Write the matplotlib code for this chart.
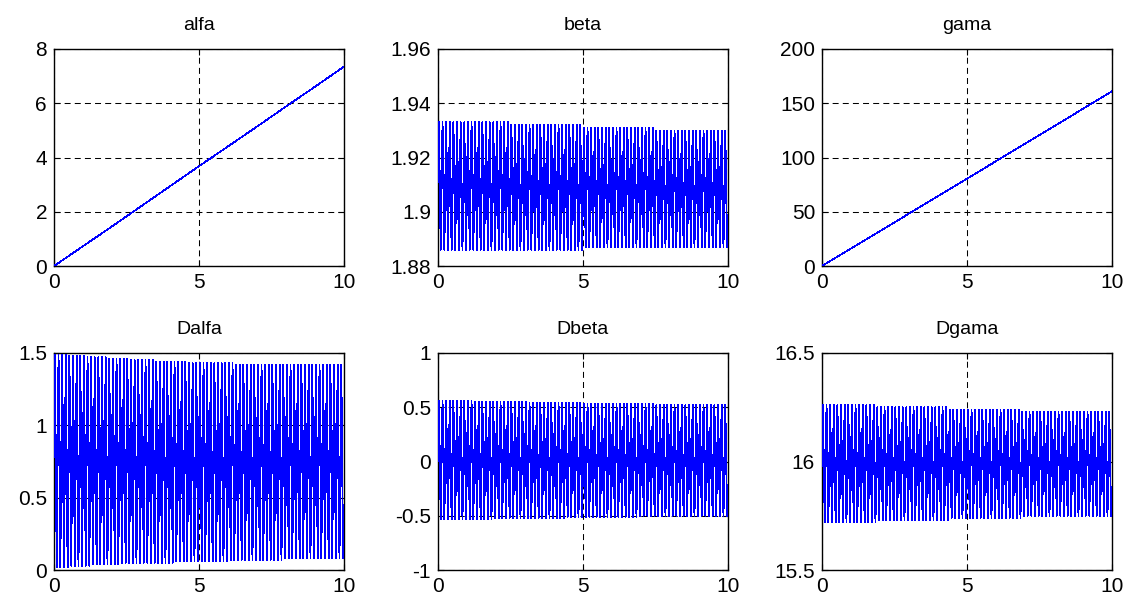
import numpy as np
import matplotlib
matplotlib.use("Agg")
import matplotlib.pyplot as plt
from matplotlib.ticker import FixedLocator, FuncFormatter

plt.rcParams['font.family'] = ['Liberation Sans', 'DejaVu Sans']
plt.rcParams['axes.unicode_minus'] = False
plt.rcParams['lines.scale_dashes'] = False
plt.rcParams['path.simplify'] = False

# ---------------- data ----------------
titles = ["alfa", "beta", "gama", "Dalfa", "Dbeta", "Dgama"]

t_line = [0, 1, 2, 3, 4, 5, 6, 7, 8, 9, 10]
alfa = [0.0, 0.73, 1.46, 2.2, 2.94, 3.68, 4.41, 5.14, 5.88, 6.61, 7.35]
gama = [0.0, 16.1, 32.2, 48.3, 64.4, 80.5, 96.6, 112.7, 128.8, 144.9, 161.0]

# oscillating signals: start value, then the value of every crest and trough (80 cycles)
dalfa_start = 0.78
dalfa_peaks = [
    1.49, 1.49, 1.49, 1.49, 1.48, 1.48, 1.48, 1.48, 1.48, 1.47,
    1.47, 1.47, 1.47, 1.47, 1.47, 1.46, 1.46, 1.46, 1.46, 1.46,
    1.46, 1.45, 1.45, 1.45, 1.45, 1.45, 1.45, 1.45, 1.44, 1.44,
    1.44, 1.44, 1.44, 1.44, 1.44, 1.44, 1.44, 1.43, 1.43, 1.43,
    1.43, 1.43, 1.43, 1.43, 1.43, 1.43, 1.43, 1.43, 1.43, 1.43,
    1.42, 1.42, 1.42, 1.42, 1.42, 1.42, 1.42, 1.42, 1.42, 1.42,
    1.42, 1.42, 1.42, 1.42, 1.42, 1.42, 1.42, 1.42, 1.42, 1.42,
    1.42, 1.42, 1.42, 1.42, 1.42, 1.42, 1.42, 1.42, 1.42, 1.42,
]
dalfa_troughs = [
    0.02, 0.02, 0.02, 0.02, 0.03, 0.03, 0.03, 0.03, 0.03, 0.03,
    0.04, 0.04, 0.04, 0.04, 0.04, 0.04, 0.04, 0.04, 0.05, 0.05,
    0.05, 0.05, 0.05, 0.05, 0.05, 0.05, 0.05, 0.05, 0.05, 0.05,
    0.05, 0.05, 0.05, 0.06, 0.06, 0.06, 0.06, 0.06, 0.06, 0.06,
    0.06, 0.06, 0.06, 0.06, 0.06, 0.06, 0.06, 0.06, 0.07, 0.07,
    0.07, 0.07, 0.07, 0.07, 0.07, 0.07, 0.07, 0.07, 0.07, 0.07,
    0.07, 0.07, 0.07, 0.08, 0.08, 0.08, 0.08, 0.08, 0.08, 0.08,
    0.08, 0.08, 0.08, 0.08, 0.08, 0.08, 0.08, 0.08, 0.08, 0.08,
]

beta_start = 1.911
beta_peaks = [
    1.933, 1.933, 1.933, 1.933, 1.933, 1.933, 1.933, 1.933, 1.933, 1.933,
    1.933, 1.933, 1.933, 1.933, 1.933, 1.933, 1.933, 1.933, 1.933, 1.933,
    1.932, 1.932, 1.932, 1.932, 1.932, 1.932, 1.932, 1.932, 1.932, 1.932,
    1.932, 1.932, 1.932, 1.932, 1.932, 1.932, 1.932, 1.932, 1.932, 1.932,
    1.931, 1.931, 1.931, 1.931, 1.931, 1.931, 1.931, 1.931, 1.931, 1.931,
    1.931, 1.931, 1.931, 1.931, 1.931, 1.931, 1.931, 1.931, 1.931, 1.931,
    1.930, 1.930, 1.930, 1.930, 1.930, 1.930, 1.930, 1.930, 1.930, 1.930,
    1.930, 1.930, 1.930, 1.930, 1.930, 1.930, 1.930, 1.930, 1.930, 1.930,
]
beta_troughs = [
    1.886, 1.886, 1.886, 1.886, 1.886, 1.886, 1.886, 1.886, 1.886, 1.886,
    1.886, 1.886, 1.886, 1.886, 1.886, 1.886, 1.886, 1.886, 1.886, 1.886,
    1.886, 1.886, 1.886, 1.886, 1.886, 1.886, 1.886, 1.886, 1.886, 1.886,
    1.886, 1.886, 1.886, 1.886, 1.886, 1.886, 1.886, 1.886, 1.886, 1.886,
    1.887, 1.887, 1.887, 1.887, 1.887, 1.887, 1.887, 1.887, 1.887, 1.887,
    1.887, 1.887, 1.887, 1.887, 1.887, 1.887, 1.887, 1.887, 1.887, 1.887,
    1.887, 1.887, 1.887, 1.887, 1.887, 1.887, 1.887, 1.887, 1.887, 1.887,
    1.887, 1.887, 1.887, 1.887, 1.887, 1.887, 1.887, 1.887, 1.887, 1.887,
]

dbeta_start = 0.0
dbeta_peaks = [
    0.56, 0.56, 0.56, 0.56, 0.56, 0.56, 0.56, 0.56, 0.56, 0.56,
    0.55, 0.55, 0.55, 0.55, 0.55, 0.55, 0.55, 0.55, 0.55, 0.55,
    0.55, 0.55, 0.55, 0.55, 0.55, 0.54, 0.54, 0.54, 0.54, 0.54,
    0.54, 0.54, 0.54, 0.54, 0.54, 0.54, 0.54, 0.54, 0.54, 0.54,
    0.53, 0.53, 0.53, 0.53, 0.53, 0.53, 0.53, 0.53, 0.53, 0.53,
    0.53, 0.53, 0.53, 0.53, 0.53, 0.53, 0.53, 0.53, 0.53, 0.53,
    0.52, 0.52, 0.52, 0.52, 0.52, 0.52, 0.52, 0.52, 0.52, 0.52,
    0.52, 0.52, 0.52, 0.52, 0.52, 0.52, 0.52, 0.52, 0.52, 0.52,
]
dbeta_troughs = [
    -0.53, -0.53, -0.53, -0.53, -0.53, -0.53, -0.53, -0.53, -0.53, -0.53,
    -0.53, -0.53, -0.53, -0.53, -0.53, -0.52, -0.52, -0.52, -0.52, -0.52,
    -0.52, -0.52, -0.52, -0.52, -0.52, -0.52, -0.52, -0.52, -0.52, -0.52,
    -0.52, -0.52, -0.52, -0.52, -0.52, -0.51, -0.51, -0.51, -0.51, -0.51,
    -0.51, -0.51, -0.51, -0.51, -0.51, -0.51, -0.51, -0.51, -0.51, -0.51,
    -0.51, -0.51, -0.51, -0.51, -0.51, -0.50, -0.50, -0.50, -0.50, -0.50,
    -0.50, -0.50, -0.50, -0.50, -0.50, -0.50, -0.50, -0.50, -0.50, -0.50,
    -0.50, -0.50, -0.50, -0.50, -0.50, -0.50, -0.50, -0.50, -0.50, -0.50,
]

dgama_start = 15.98
dgama_peaks = [
    16.26, 16.26, 16.26, 16.26, 16.26, 16.26, 16.26, 16.26, 16.26, 16.26,
    16.26, 16.26, 16.26, 16.26, 16.26, 16.25, 16.25, 16.25, 16.25, 16.25,
    16.25, 16.25, 16.25, 16.25, 16.25, 16.25, 16.25, 16.25, 16.25, 16.25,
    16.25, 16.25, 16.25, 16.25, 16.25, 16.24, 16.24, 16.24, 16.24, 16.24,
    16.24, 16.24, 16.24, 16.24, 16.24, 16.24, 16.24, 16.24, 16.24, 16.24,
    16.24, 16.24, 16.24, 16.24, 16.24, 16.23, 16.23, 16.23, 16.23, 16.23,
    16.23, 16.23, 16.23, 16.23, 16.23, 16.23, 16.23, 16.23, 16.23, 16.23,
    16.23, 16.23, 16.23, 16.23, 16.23, 16.23, 16.23, 16.23, 16.23, 16.23,
]
dgama_troughs = [
    15.72, 15.72, 15.72, 15.72, 15.72, 15.72, 15.72, 15.72, 15.72, 15.72,
    15.72, 15.72, 15.72, 15.72, 15.72, 15.73, 15.73, 15.73, 15.73, 15.73,
    15.73, 15.73, 15.73, 15.73, 15.73, 15.73, 15.73, 15.73, 15.73, 15.73,
    15.73, 15.73, 15.73, 15.73, 15.73, 15.74, 15.74, 15.74, 15.74, 15.74,
    15.74, 15.74, 15.74, 15.74, 15.74, 15.74, 15.74, 15.74, 15.74, 15.74,
    15.74, 15.74, 15.74, 15.74, 15.74, 15.75, 15.75, 15.75, 15.75, 15.75,
    15.75, 15.75, 15.75, 15.75, 15.75, 15.75, 15.75, 15.75, 15.75, 15.75,
    15.75, 15.75, 15.75, 15.75, 15.75, 15.75, 15.75, 15.75, 15.75, 15.75,
]

x_ticks = [0, 5, 10]
y_ticks = {
    "alfa": [0, 2, 4, 6, 8],
    "beta": [1.88, 1.9, 1.92, 1.94, 1.96],
    "gama": [0, 50, 100, 150, 200],
    "Dalfa": [0, 0.5, 1, 1.5],
    "Dbeta": [-1, -0.5, 0, 0.5, 1],
    "Dgama": [15.5, 16, 16.5],
}

T_END = 10.0


def oscillation(start, peaks, troughs):
    """Arrange crest/trough values along the time axis (crest, trough alternating)."""
    n = len(peaks)
    period = T_END / n
    tt = [0.0]
    vv = [start]
    for k in range(n):
        tt += [(k + 0.25) * period, (k + 0.75) * period]
        vv += [peaks[k], troughs[k]]
    return np.array(tt), np.array(vv)


series = {
    "alfa": (np.asarray(t_line), np.asarray(alfa)),
    "beta": oscillation(beta_start, beta_peaks, beta_troughs),
    "gama": (np.asarray(t_line), np.asarray(gama)),
    "Dalfa": oscillation(dalfa_start, dalfa_peaks, dalfa_troughs),
    "Dbeta": oscillation(dbeta_start, dbeta_peaks, dbeta_troughs),
    "Dgama": oscillation(dgama_start, dgama_peaks, dgama_troughs),
}

# ---------------- figure ----------------
W, H = 1132, 601
fig = plt.figure(figsize=(W / 100, H / 100), dpi=100)

lefts = [54, 438, 822]
tops = [49, 353]
aw, ah = 290, 217

for i, name in enumerate(titles):
    r, c = divmod(i, 3)
    ax = fig.add_axes([lefts[c] / W, 1 - (tops[r] + ah) / H, aw / W, ah / H])
    x, y = series[name]
    osc = name not in ("alfa", "gama")
    ax.plot(x, y, color=(0, 0, 1), lw=(0.6 if osc else 0.5),
            antialiased=False, snap=False, zorder=3)
    yt = y_ticks[name]
    ax.set_xlim(0, T_END)
    ax.set_ylim(yt[0], yt[-1])
    ax.xaxis.set_major_locator(FixedLocator(x_ticks))
    ax.yaxis.set_major_locator(FixedLocator(yt))
    fmt = FuncFormatter(lambda v, p: "%g" % v)
    ax.xaxis.set_major_formatter(fmt)
    ax.yaxis.set_major_formatter(fmt)
    ax.grid(True, color='black', lw=0.75, linestyle=(0, (4.3, 3.0)))
    ax.tick_params(direction='in', length=4, width=0.8, labelsize=15,
                   top=True, right=True, pad=5, colors='black')
    for s in ax.spines.values():
        s.set_linewidth(1.0)
        s.set_color('black')
    ax.set_title(name, fontsize=14, pad=14)

fig.savefig("out.png", dpi=100)
